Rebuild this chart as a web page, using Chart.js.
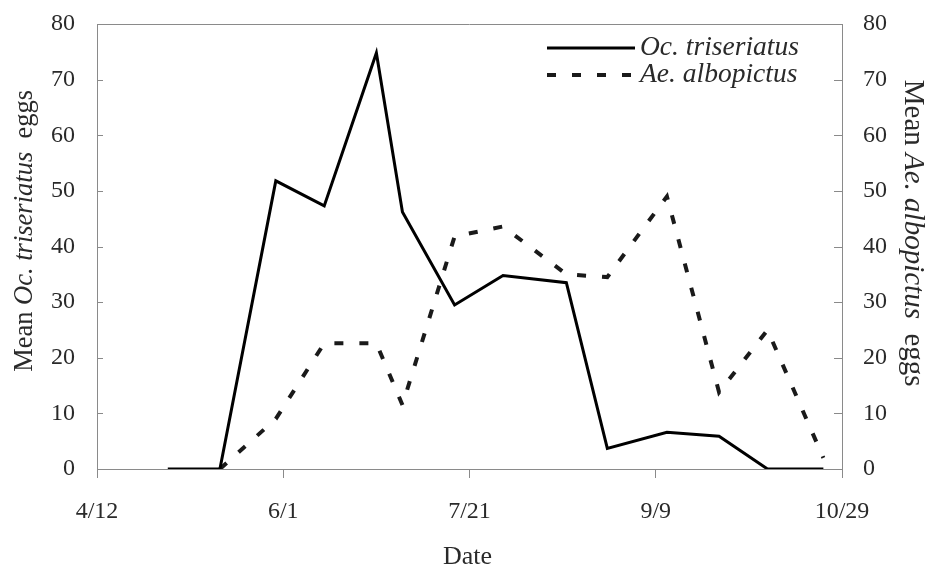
<!DOCTYPE html>
<html>
<head>
<meta charset="utf-8">
<script src="https://cdn.jsdelivr.net/npm/chart.js@4/dist/chart.umd.min.js"></script>
<style>
  html, body { margin: 0; padding: 0; background: #fff; }
  #wrap { width: 926px; height: 572px; }
</style>
</head>
<body>
<div id="wrap"><canvas id="myChart" width="926" height="572"></canvas></div>
<script>
// sampling dates (month/day) and mean eggs per sample
var sampleDates = ['5/1', '5/15', '5/30', '6/12', '6/26', '7/3', '7/17', '7/30', '8/16', '8/27', '9/12', '9/26', '10/9', '10/24'];
var triseriatus = [0, 0, 51.8, 47.3, 74.8, 46.2, 29.5, 34.8, 33.5, 3.7, 6.6, 5.9, 0, 0];
var albopictus = [null, 0, 9, 22.6, 22.6, 11.5, 41.8, 43.6, 35, 34.5, 49, 13.8, 25, 2];

var startDate = '4/12';
var tickLabels = ['4/12', '6/1', '7/21', '9/9', '10/29'];
var yTicks = [0, 10, 20, 30, 40, 50, 60, 70, 80];

var serif = "'Liberation Serif', 'Times New Roman', serif";
var axisGray = '#8a8a8a';
var textCol = '#2a2a2a';

function dayOf(md) {
	var p = md.split('/');
	var s = startDate.split('/');
	return (Date.UTC(2001, p[0] - 1, +p[1]) - Date.UTC(2001, s[0] - 1, +s[1])) / 86400000;
}

function points(vals) {
	return sampleDates.map(function(d, i) {
		return { x: dayOf(d), y: vals[i] };
	});
}

// draws a title made of plain and italic pieces, centred on (cx, cy)
function richText(ctx, parts, cx, cy, rot, size) {
	ctx.save();
	ctx.translate(cx, cy);
	ctx.rotate(rot);
	ctx.textBaseline = 'middle';
	ctx.textAlign = 'left';
	ctx.fillStyle = textCol;
	var total = 0;
	parts.forEach(function(p) {
		ctx.font = (p[1] ? 'italic ' : '') + size + 'px ' + serif;
		total += ctx.measureText(p[0]).width;
	});
	var x = -total / 2;
	parts.forEach(function(p) {
		ctx.font = (p[1] ? 'italic ' : '') + size + 'px ' + serif;
		ctx.fillText(p[0], x, 0);
		x += ctx.measureText(p[0]).width;
	});
	ctx.restore();
}

var extras = {
	id: 'extras',
	afterDraw: function(chart) {
		var ctx = chart.ctx;
		var a = chart.chartArea;
		var yl = chart.scales.y, yr = chart.scales.y1;

		ctx.save();
		ctx.strokeStyle = axisGray;
		ctx.lineWidth = 1;
		ctx.beginPath();
		ctx.moveTo(a.left, a.top + 0.5);
		ctx.lineTo(a.right, a.top + 0.5);
		// inward tick marks on both value axes
		yTicks.forEach(function(v) {
			var py = Math.round(yl.getPixelForValue(v)) + 0.5;
			ctx.moveTo(a.left, py);
			ctx.lineTo(a.left + 6, py);
			py = Math.round(yr.getPixelForValue(v)) + 0.5;
			ctx.moveTo(a.right, py);
			ctx.lineTo(a.right - 8, py);
		});
		ctx.stroke();
		ctx.restore();

		var h = a.bottom - a.top;
		richText(ctx, [['Mean ', false], ['Oc. triseriatus', true], ['  eggs', false]], 25, a.top + h * 0.465, -Math.PI / 2, 26.5);
		richText(ctx, [['Mean ', false], ['Ae. albopictus', true], ['  eggs', false]], a.right + 71, a.top + h * 0.47, Math.PI / 2, 29);
		richText(ctx, [['Date', false]], (a.left + a.right) / 2 - 2, 557, 0, 26);

		// legend, top right inside the plot
		var lx = a.right - 295, ly = a.top + 24;
		chart.data.datasets.forEach(function(ds, i) {
			var y = ly + i * 27;
			ctx.save();
			ctx.strokeStyle = ds.borderColor;
			ctx.lineWidth = ds.borderWidth;
			ctx.setLineDash(ds.borderDash || []);
			ctx.beginPath();
			ctx.moveTo(lx, y);
			ctx.lineTo(lx + 88, y);
			ctx.stroke();
			ctx.restore();
			ctx.save();
			ctx.font = 'italic 27.5px ' + serif;
			ctx.fillStyle = textCol;
			ctx.textBaseline = 'middle';
			ctx.fillText(ds.label, lx + 93, y);
			ctx.restore();
		});
	}
};

function noPad(s) {
	s.paddingTop = 0;
	s.paddingBottom = 0;
}

var ctx = document.getElementById('myChart').getContext('2d');
var myChart = new Chart(ctx, {
	type: 'line',
	data: {
		datasets: [{
			label: 'Oc. triseriatus',
			data: points(triseriatus),
			yAxisID: 'y',
			borderColor: '#000',
			borderWidth: 3,
			pointRadius: 0,
			tension: 0
		}, {
			label: 'Ae. albopictus',
			data: points(albopictus),
			yAxisID: 'y1',
			borderColor: '#1a1a1a',
			borderWidth: 4,
			borderDash: [9, 16],
			pointRadius: 0,
			tension: 0
		}]
	},
	options: {
		responsive: false,
		animation: false,
		devicePixelRatio: 1,
		layout: { padding: { top: 24, left: 0, right: 0, bottom: 0 } },
		plugins: {
			legend: { display: false },
			tooltip: { enabled: false }
		},
		scales: {
			x: {
				type: 'linear',
				min: 0,
				max: 200,
				afterFit: function(s) { s.height = 103; },
				ticks: {
					stepSize: 50,
					padding: 19,
					color: textCol,
					font: { family: serif, size: 24 },
					callback: function(v, i) { return tickLabels[i]; }
				},
				grid: { drawOnChartArea: false, tickLength: 9, color: axisGray },
				border: { color: axisGray }
			},
			y: {
				position: 'left',
				min: 0,
				max: 80,
				afterFit: function(s) { s.width = 97; noPad(s); },
				ticks: {
					stepSize: 10,
					padding: 22,
					color: textCol,
					font: { family: serif, size: 24 }
				},
				grid: { drawOnChartArea: false, drawTicks: false },
				border: { color: axisGray }
			},
			y1: {
				position: 'right',
				min: 0,
				max: 80,
				afterFit: function(s) { s.width = 84; noPad(s); },
				ticks: {
					stepSize: 10,
					padding: 21,
					color: textCol,
					font: { family: serif, size: 24 }
				},
				grid: { drawOnChartArea: false, drawTicks: false },
				border: { color: axisGray }
			}
		}
	},
	plugins: [extras]
});
</script>
</body>
</html>
